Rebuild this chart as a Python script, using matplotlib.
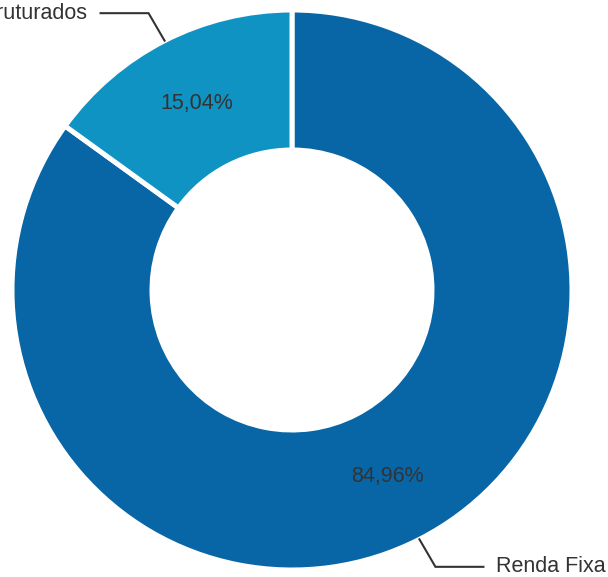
"""Donut chart: allocation Renda Fixa vs Estruturados."""

import numpy as np
import matplotlib

matplotlib.use("Agg")
import matplotlib.pyplot as plt  # noqa: E402

labels = ["Renda Fixa", "Estruturados"]
values = [84.96, 15.04]
colors = ["#0866a6", "#0e93c3"]

TEXT = "#333333"
W, H = 608, 577
CX, CY, R = 292, 287, 280

plt.rcParams["font.family"] = ["Liberation Sans", "DejaVu Sans"]

fig = plt.figure(figsize=(W / 100, H / 100), dpi=100)
ax = fig.add_axes([0, 0, 1, 1])

wedges, _, autotexts = ax.pie(
    values,
    colors=colors,
    startangle=90,
    counterclock=False,
    center=(CX, CY),
    radius=R,
    autopct=lambda p: f"{p:.2f}".replace(".", ",") + "%",
    pctdistance=0.75,
    wedgeprops=dict(width=R * 0.5, edgecolor="white", linewidth=3.6),
    textprops=dict(color=TEXT, fontsize=15.5),
    frame=True,
)
ax.set_xlim(0, W)
ax.set_ylim(0, H)
ax.set_aspect("equal")
ax.axis("off")

# leader lines + outside labels
for w, lab in zip(wedges, labels):
    mid = np.deg2rad((w.theta1 + w.theta2) / 2)
    ex, ey = CX + R * np.cos(mid), CY + R * np.sin(mid)
    sx = 1 if np.cos(mid) > 0 else -1
    sy = 1 if np.sin(mid) > 0 else -1
    kx, ky = ex + sx * 16, ey + sy * 27.5
    hx = kx + sx * 48
    ax.plot([ex, kx, hx], [ey, ky, ky], color=TEXT, lw=1.5,
            solid_joinstyle="miter", clip_on=False)
    ax.text(hx + sx * 13, ky, lab, color=TEXT, fontsize=15.5,
            ha="left" if sx > 0 else "right", va="center")

fig.savefig("out.png", dpi=100)
